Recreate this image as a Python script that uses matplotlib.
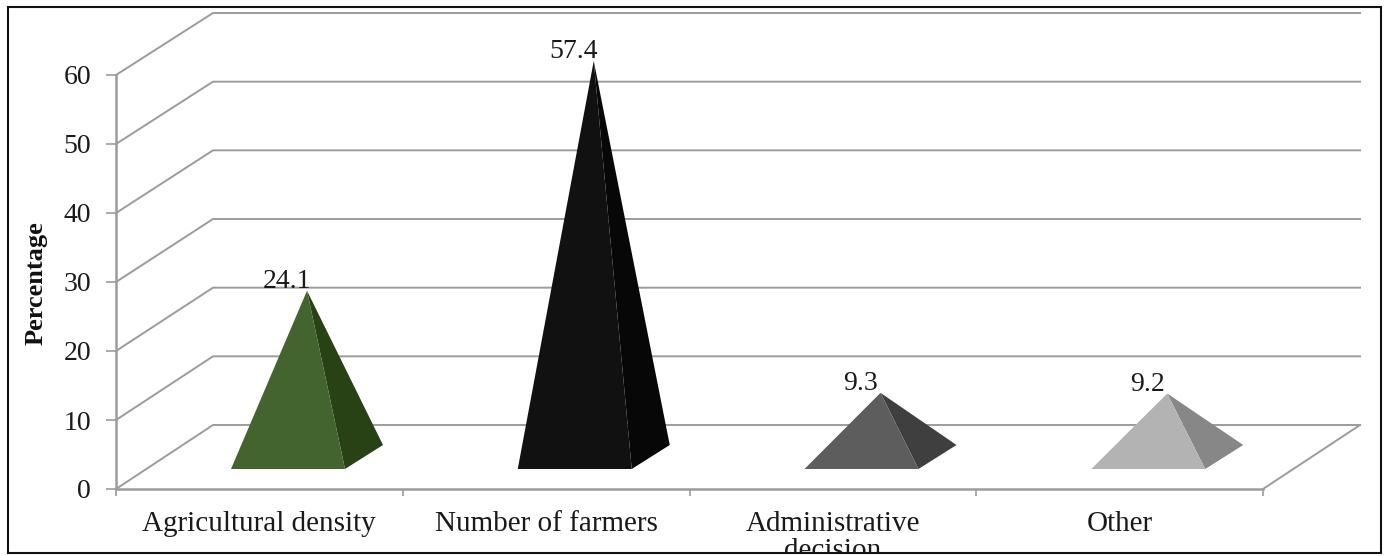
import numpy as np
import matplotlib.pyplot as plt
from matplotlib.patches import Polygon, Rectangle

categories = ["Agricultural density", "Number of farmers", "Administrative\ndecision", "Other"]
values = [24.1, 57.4, 9.3, 9.2]
front_colors = ["#43642f", "#111111", "#5d5d5d", "#b3b3b3"]
side_colors = ["#284216", "#070707", "#3f3f3f", "#878787"]
yticks = [0, 10, 20, 30, 40, 50, 60]

W, H = 1389, 556
GREY = "#9c9c9c"
plt.rcParams["font.family"] = ["Liberation Serif", "DejaVu Serif"]

fig = plt.figure(figsize=(W / 100, H / 100), dpi=100)
# front plane of the oblique box
left, right, bottom, top = 116, 1263, 489, 75
ax = fig.add_axes([left / W, 1 - bottom / H, (right - left) / W, (bottom - top) / H])
ax.set_xlim(0, 4)
ax.set_ylim(0, 60)
ax.patch.set_visible(False)

px_x = (right - left) / 4
px_y = (bottom - top) / 60
depth_x, depth_y = 97 / px_x, 64 / px_y
rear_scale = 412 / 414

# walls: each gridline runs back from the axis, then along the rear wall
for v in yticks:
    rear = v * rear_scale + depth_y
    ax.plot([0, depth_x, 4 + depth_x], [v, rear, rear], color=GREY,
            lw=1.4, clip_on=False, zorder=1, solid_joinstyle="miter")
ax.plot([4, 4 + depth_x], [0, depth_y], color=GREY, lw=1.4, clip_on=False, zorder=1)

# pyramids
base_left = 115 / px_x
base_width = 114 / px_x
base_lift = 20 / px_y
side_x, side_y = 38 / px_x, 24 / px_y
for i, v in enumerate(values):
    x0 = i + base_left
    x1 = x0 + base_width
    apex = (x0 + (base_width + side_x) / 2, base_lift + side_y / 2 + v)
    ax.add_patch(Polygon([(x1, base_lift), (x1 + side_x, base_lift + side_y), apex],
                         closed=True, fc=side_colors[i], ec="none", clip_on=False, zorder=3))
    ax.add_patch(Polygon([(x0, base_lift), (x1, base_lift), apex],
                         closed=True, fc=front_colors[i], ec="none", clip_on=False, zorder=4))
    ax.annotate(f"{v}", xy=apex, xytext=(-14.5, 6.8), textcoords="offset points",
                ha="center", va="center", fontsize=20, color="#1a1a1a", zorder=5,
                annotation_clip=False)

for name in ["top", "right"]:
    ax.spines[name].set_visible(False)
for name in ["left", "bottom"]:
    ax.spines[name].set_color(GREY)
    ax.spines[name].set_linewidth(1.8)

ax.set_yticks(yticks)
ax.set_xticks(range(5))
ax.set_xticklabels([])
ax.tick_params(axis="both", which="major", color=GREY, width=1.2, labelcolor="#1a1a1a")
ax.tick_params(axis="y", length=7, pad=11, labelsize=20)
ax.tick_params(axis="x", length=5)
ax.set_xticks(np.arange(4) + 0.5, categories, minor=True)
ax.tick_params(axis="x", which="minor", length=0, pad=15.5, labelsize=21, labelcolor="#1a1a1a")
for lab in ax.get_xticklabels(minor=True):
    lab.set_linespacing(1.05)

fig.text(36 / W, 1 - 283 / H, "Percentage", rotation=90, ha="center", va="center",
         fontsize=19, fontweight="bold", color="#111111")

# outer border drawn last so it trims the wrapped label
over = fig.add_axes([0, 0, 1, 1], zorder=10)
over.set_xlim(0, W)
over.set_ylim(H, 0)
over.axis("off")
over.patch.set_visible(False)
over.add_patch(Rectangle((0, 553), W, 3, fc="white", ec="none"))
over.add_patch(Rectangle((8, 7), 1373, 546, fc="none", ec="#111111", lw=1.5))

fig.savefig("out.png", dpi=100)
